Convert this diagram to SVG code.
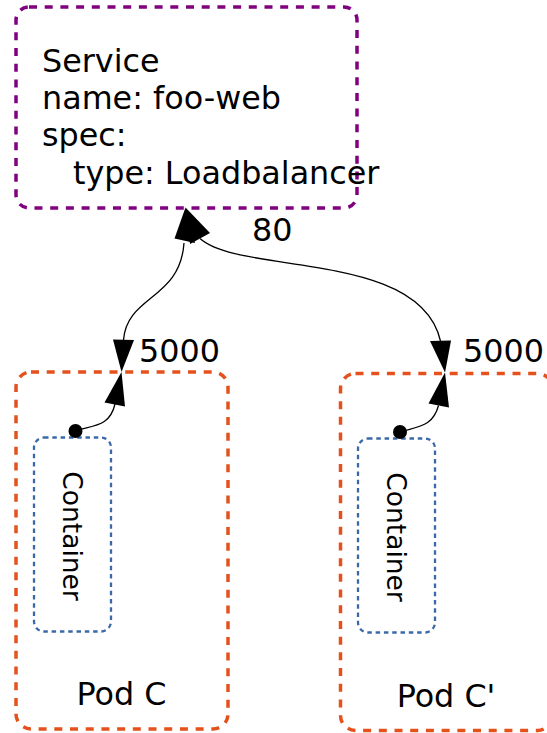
<svg xmlns="http://www.w3.org/2000/svg" width="547" height="733" viewBox="0 0 547 733">
<style>
text{font-family:"DejaVu Sans","Liberation Sans",sans-serif;fill:#000}
.big{font-size:31.8px}
.ctr{font-size:26.5px}
.svc{fill:#fff;stroke:#800080;stroke-width:3.5;stroke-dasharray:8 7.7}
.pod{fill:#fff;stroke:#e4511d;stroke-width:3.5;stroke-dasharray:8 7.7}
.cont{fill:#fff;stroke:#3a69a9;stroke-width:2.3;stroke-dasharray:4.5 3.8}
.edge{fill:none;stroke:#000;stroke-width:1.3}
.head{fill:#000;stroke:none}
</style>
<rect width="547" height="733" fill="#fff"/>
<g id="service">
<rect class="svc" x="16" y="7" width="341" height="201" rx="13"/>
<text class="big" x="42" y="71.5">Service</text>
<text class="big" x="42" y="108.5">name: foo-web</text>
<text class="big" x="42" y="146">spec:</text>
<text class="big" x="73" y="183.5">type: Loadbalancer</text>
</g>
<g id="podC">
<rect class="pod" x="16" y="372" width="212" height="357" rx="15"/>
<text class="big" x="121.5" y="705" text-anchor="middle">Pod C</text>
</g>
<g id="podC2">
<rect class="pod" x="340.5" y="373.5" width="212" height="357" rx="15"/>
<text class="big" x="446" y="706.5" text-anchor="middle">Pod C'</text>
</g>
<g id="containerC">
<rect class="cont" x="34" y="437.5" width="77" height="194" rx="10"/>
<text class="ctr" transform="translate(72.5,536) rotate(90)" text-anchor="middle" dy="0.36em">Container</text>
</g>
<g id="containerC2">
<rect class="cont" x="358" y="438.5" width="77" height="194" rx="10"/>
<text class="ctr" transform="translate(396.5,537) rotate(90)" text-anchor="middle" dy="0.36em">Container</text>
</g>
<g id="connectors">
<path class="edge" d="M 75 431 C 95 425, 110 426, 115 404"/>
<circle class="head" cx="75.5" cy="431" r="7"/>
<polygon class="head" points="121.5,372 104.5,402.5 125,406.5"/>
<path class="edge" d="M 400 432 C 420 426, 433 426, 438.5 405.5"/>
<circle class="head" cx="400" cy="432" r="7"/>
<polygon class="head" points="445,372.5 428.5,403.5 449,407.5"/>
<path class="edge" d="M 123.5 340 C 127 295, 180 300, 184 243"/>
<polygon class="head" points="113,339.5 134,340 121.5,372"/>
<path class="edge" d="M 200 238.5 C 240 275, 420 250, 440.5 341"/>
<polygon class="head" points="430,341 451,340.5 445,372.5"/>
<polygon class="head" points="185.5,207.5 174.5,238.5 195,243"/>
<polygon class="head" points="185.5,207.5 190,244 210,233"/>
<text class="big" x="252" y="240.5">80</text>
<text class="big" x="139" y="361.5">5000</text>
<text class="big" x="463" y="362">5000</text>
</g>
</svg>
